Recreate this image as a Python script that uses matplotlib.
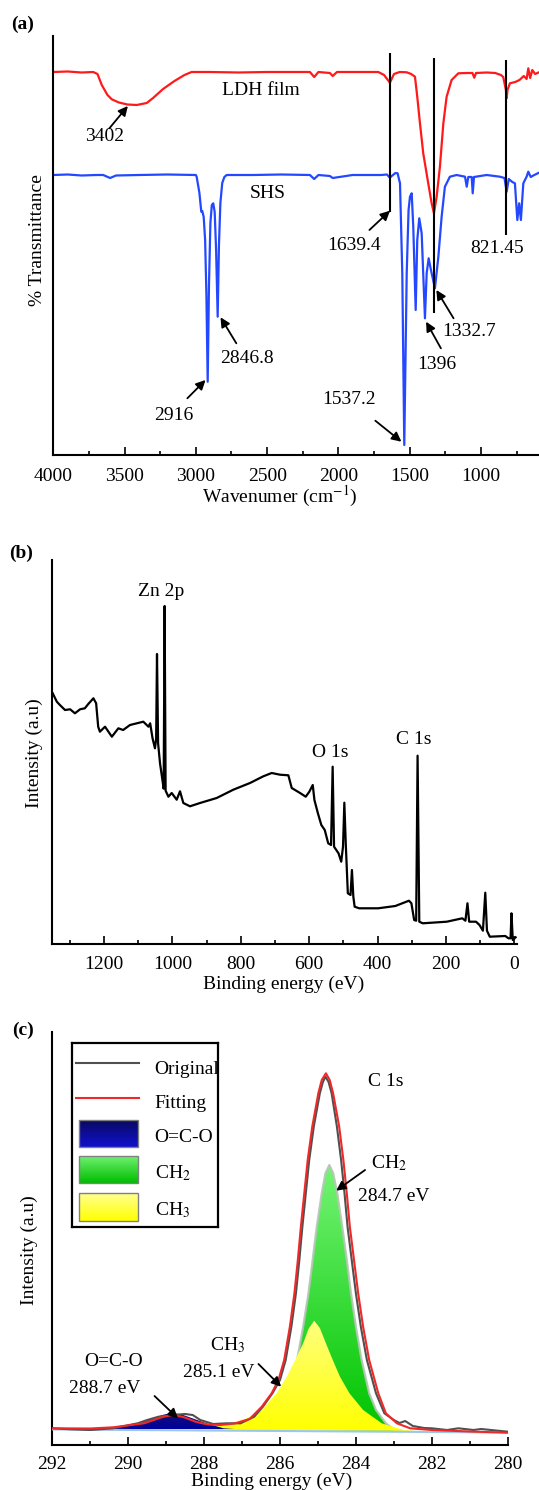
import numpy as np
import matplotlib
matplotlib.use('Agg')
import matplotlib.pyplot as plt
from matplotlib.colors import LinearSegmentedColormap

plt.rcParams['font.family'] = 'Liberation Serif'
plt.rcParams['mathtext.fontset'] = 'stix'

# ---------------- (a) FTIR ----------------
ldh_wn = [4000, 3900, 3800, 3720, 3690, 3660, 3620, 3590, 3540, 3480, 3415, 3345, 3300, 3230,
          3150, 3080, 3030, 2900, 2700, 2500, 2300, 2200, 2170, 2140, 2060, 2040, 2010, 1800,
          1720, 1680, 1639, 1610, 1570, 1521, 1490, 1463, 1447, 1428, 1405, 1370, 1346, 1330,
          1311, 1288, 1264, 1241, 1206, 1159, 1100, 1060, 1047, 1035, 960, 900, 860, 844, 825,
          820, 814, 797, 760, 730, 700, 680, 668, 655, 640, 620, 593]
ldh_t = [383, 383.5, 382.5, 383, 381, 370, 360, 355.7, 352.5, 350.5, 350, 352, 357, 366,
         374, 380, 383, 383, 382.5, 383, 383, 383, 378, 383, 382, 379, 383, 383,
         383, 380, 372.3, 381, 383, 382.7, 381, 378.3, 358.3, 331.7, 301.7, 271.7, 251.7, 241.7,
         258.3, 288.3, 331.7, 358.3, 375, 381.7, 382, 382, 377.3, 382, 382.5, 382, 380, 378, 365,
         356.7, 365, 371.7, 373, 375, 379, 376, 386.7, 377, 385, 381, 382.7]

shs_wn = [4000, 3900, 3800, 3700, 3650, 3602, 3560, 3400, 3200, 3000, 2994, 2975, 2962, 2955,
          2945, 2935, 2926, 2917, 2908, 2898, 2888, 2878, 2868, 2858, 2847, 2838, 2828, 2815,
          2800, 2784, 2600, 2400, 2200, 2170, 2140, 2060, 2040, 1900, 1700, 1660, 1639, 1626,
          1600, 1585, 1568, 1552, 1538, 1521, 1508, 1498, 1486, 1475, 1458, 1447, 1433, 1416,
          1393, 1381, 1367, 1351, 1323, 1299, 1276, 1253, 1218, 1171, 1112, 1100, 1089, 1065,
          1058, 1049, 960, 867, 835, 820, 805, 797, 780, 762, 745, 732, 720, 703, 680, 668, 651,
          633, 593]
shs_t = [280, 280.5, 279.5, 280, 280, 277, 279.5, 280, 280.5, 280, 278, 262, 243.3, 244,
         238, 215, 160, 73.3, 170, 232, 250, 251.7, 243, 205, 138.3, 210, 252, 272,
         278, 280, 280, 280.5, 280, 276, 280, 279, 277, 280, 280, 280.5, 277.3, 279,
         282, 281.7, 271.7, 181.7, 10, 181.7, 245, 258.3, 261.7, 228.3, 145, 215, 236.7, 221.7,
         136.7, 181.7, 196.7, 185, 166.7, 198.3, 238.3, 268.3, 278.3, 280, 278.3, 268.3, 278, 278,
         261.7, 278, 280, 278.3, 277, 263.3, 276, 275, 273, 271.7, 235, 251.7, 235, 271.7, 278.3,
         283.3, 278, 279.5, 282.3]

mark_wn = [1639.4, 1332.7, 821.45]
mark_lo = [243.3, 141.7, 220]
mark_hi = [402.3, 396.7, 395]

# peak labels: head of arrow (wn, t), arrow tail offset, text offset (pixels)
peak_labels = ['3402', '1639.4', '2846.8', '2916', '1537.2', '1396', '1332.7']
peak_head = [(3477, 349), (1638, 244.3), (2827, 137.7), (2932, 75), (1558, 13.3),
             (1385, 133.3), (1313, 165)]
peak_tail = [(-18.5, -22.3), (-20.6, -19.3), (15.8, -26), (-18.2, -18.3), (-26.1, 21),
             (14.8, -26.6), (17.2, -28.3)]
peak_text = [(-23, -30.7), (-36, -34.3), (26.8, -41), (-32, -35), (-51.9, 42.4),
             (10.3, -42.6), (32.6, -41)]

ftir_major = [4000, 3500, 3000, 2500, 2000, 1500, 1000]
ftir_minor = [3750, 3250, 2750, 2250, 1750, 1250, 750]

# ---------------- (b) XPS survey ----------------
survey_ev = [1350, 1338, 1329, 1314, 1299, 1285, 1270, 1256, 1246, 1231,
             1223, 1217, 1212, 1197, 1177, 1158, 1144, 1124, 1104, 1085,
             1070, 1065, 1058, 1051, 1047.5, 1045, 1041.8, 1036, 1029, 1025.5,
             1022.7, 1019.8, 1011.6, 1002, 987.4, 977.7, 968, 948.5, 919.2, 870.4,
             821.8, 773, 734, 709.6, 685.2, 660.8, 651, 626.7, 610, 599.5,
             589.5, 584.6, 574.4, 564.4, 554.4, 544.3, 536, 531.3, 527.2, 514.1,
             506.2, 501, 497.1, 493.0, 486.9, 479.0, 474.9, 470.8, 467.0, 453.8,
             398.2, 348.0, 308.1, 301, 292.9, 287, 282.9, 277.9, 267.7, 197.4,
             152.1, 143, 137.0, 132, 112.0, 101.8, 91.8, 84.9, 80, 71.7,
             26.4, 17, 11, 8.3, 4.5, -3.8]
survey_int = [250.7, 242.3, 239, 234, 234.7, 230.7, 234.7, 235.7, 240, 245.7,
              240.7, 217.3, 212.3, 217.3, 207.3, 215.7, 214, 219, 220.7, 222.3,
              217.3, 220.7, 205.7, 195.7, 205, 290, 200.7, 180.3, 163.7, 155.3,
              338, 153.3, 147.3, 151, 144.3, 152.7, 141, 137.7, 141, 146,
              154.3, 161, 167.7, 171, 169.3, 168.7, 156, 151, 147.3, 152.3,
              159, 144, 130.7, 119, 114, 100.7, 99, 177.3, 97.3, 90.7,
              82.3, 97.3, 141.3, 100.7, 50.7, 49, 74, 47.3, 37.3, 35.7,
              35.7, 38, 43.3, 40.7, 24, 23.3, 188.3, 22.3, 20.7, 22.3,
              25.7, 23.3, 40.7, 22.3, 22.3, 19, 13.3, 51.3, 13.3, 7.3,
              8, 5.7, 5.7, 30.7, 4, 6.7]
survey_labels = ['Zn 2p', 'O 1s', 'C 1s']
survey_label_pos = [(1034, 352.3), (537, 191.7), (293, 204)]
survey_major = [1200, 1000, 800, 600, 400, 200, 0]
survey_minor = [1300, 1100, 900, 700, 500, 300, 100]

# ---------------- (c) C 1s ----------------
orig_ev = [292.0, 291.5, 291.0, 290.4, 289.75, 289.5, 289.2, 288.85, 288.5, 288.3, 288.1,
           287.76, 287.4, 287.04, 286.68, 286.45, 286.2, 286.0, 285.85, 285.7, 285.58,
           285.49, 285.41, 285.32, 285.23, 285.11, 284.95, 284.87, 284.8, 284.72, 284.64,
           284.5, 284.39, 284.3, 284.22, 284.11, 284.0, 283.87, 283.71, 283.47, 283.25,
           283.0, 282.85, 282.7, 282.5, 282.2, 282.0, 281.6, 281.3, 280.9, 280.7, 280.0]
orig_int = [16.7, 15.7, 15, 16.7, 21.7, 25, 28.3, 30, 31, 30, 25,
            21, 21.7, 21.7, 28.3, 38.3, 51.7, 65, 85, 118.3, 151.7,
            185, 218.3, 251.7, 285, 318.3, 351.7, 363, 368.3, 363, 351.7,
            318.3, 285, 251.7, 218.3, 185, 151.7, 118.3, 85, 51.7, 31.7,
            25, 22, 24, 19, 17, 16.7, 15, 16.7, 15, 16, 13.3]
fit_ev = [292.0, 291.0, 290.39, 289.58, 289.1, 288.85, 288.55, 288.2, 287.9, 287.58, 287.2,
          286.8, 286.48, 286.22, 286.04, 285.89, 285.74, 285.62, 285.53, 285.45, 285.36,
          285.27, 285.15, 284.99, 284.9, 284.79, 284.69, 284.6, 284.44, 284.33, 284.24,
          284.16, 284.05, 283.94, 283.81, 283.65, 283.41, 283.21, 282.92, 282.57, 282.0,
          281.0, 280.0]
fit_int = [16.7, 16.5, 17.7, 21.7, 28, 30, 28, 23, 20.5, 20, 21.5,
           26, 38.3, 51.7, 65, 85, 118.3, 151.7, 185, 218.3, 251.7,
           285, 318.3, 351.7, 365, 371.7, 365, 351.7, 318.3, 285, 251.7,
           218.3, 185, 151.7, 118.3, 85, 51.7, 31.7, 21.7, 16.7, 15,
           13.5, 12.3]
ch2_ev = [286.4, 286.19, 285.93, 285.75, 285.55, 285.39, 285.25, 285.14, 285.03, 284.9,
          284.8, 284.7, 284.6, 284.49, 284.36, 284.24, 284.13, 284.0, 283.85, 283.65,
          283.47, 283.21, 283.0, 282.8]
ch2_int = [15.5, 21.7, 35, 51.7, 85, 118.3, 151.7, 185, 218.3, 251.7,
           272, 280, 272, 251.7, 218.3, 185, 151.7, 118.3, 85, 51.7,
           35, 21.7, 15.5, 14]
ch3_ev = [288.3, 287.94, 287.22, 286.8, 286.48, 286.09, 285.82, 285.6, 285.39, 285.25,
          285.1, 284.95, 284.79, 284.61, 284.42, 284.17, 283.81, 283.32, 282.75, 282.4]
ch3_int = [15.5, 16.7, 21.7, 28, 35, 51.7, 68.3, 85, 101.7, 116,
           124.3, 117, 101.7, 85, 68.3, 51.7, 35, 21.7, 15, 14]
occo_ev = [290.8, 290.39, 289.67, 289.1, 288.85, 288.55, 287.94, 287.49, 287.2]
occo_int = [16, 16.7, 21.7, 30, 32.3, 30, 21.7, 16.7, 16]
base_ev = [292, 280]
base_int = [15.5, 12.5]
c1s_major = [292, 290, 288, 286, 284, 282, 280]
c1s_minor = [291, 289, 287, 285, 283, 281]

comp_labels = [['CH$_2$', '284.7 eV'], ['CH$_3$', '285.1 eV'], ['O=C-O', '288.7 eV']]
comp_head = [(284.52, 254.3), (285.97, 58.3), (288.69, 26.7)]
comp_tail = [(28.9, 20.7), (-22.7, 22.7), (-23.4, 22.3)]
comp_text = [[(53.2, 28), (57.4, -6)], [(-53.6, 41.7), (-62.2, 14)], [(-64.6, 56.6), (-73.2, 30)]]

W, H = 539, 1490
FS = 14


def box(l, t, r, b):
    return [l / W, 1 - b / H, (r - l) / W, (b - t) / H]


def style(ax, major, minor, pad):
    for s in ['top', 'right']:
        ax.spines[s].set_visible(False)
    for s in ['left', 'bottom']:
        ax.spines[s].set_linewidth(1.5)
    ax.set_yticks([])
    ax.set_xticks(major)
    ax.set_xticks(minor, minor=True)
    ax.tick_params(axis='x', which='major', direction='in', length=5.5, width=1.2,
                   labelsize=FS, pad=pad)
    ax.tick_params(axis='x', which='minor', direction='in', length=3, width=1.2)


def ftext(x, y, s, **kw):
    fig.text(x / W, 1 - y / H, s, ha='center', va='center', fontsize=FS, **kw)


arrow = dict(arrowstyle='-|>', color='k', lw=1.3, mutation_scale=14, shrinkA=0, shrinkB=0)


def grad_fill(ax, x, y, top, bottom, z):
    poly = ax.fill(x, y, facecolor='none', edgecolor='none', zorder=z)[0]
    cmap = LinearSegmentedColormap.from_list('g', [bottom, top])
    img = ax.imshow(np.linspace(0, 1, 100).reshape(-1, 1), cmap=cmap, aspect='auto',
                    origin='lower', extent=[min(x), max(x), min(y), max(y)], zorder=z)
    img.set_clip_path(poly)


fig = plt.figure(figsize=(W / 100, H / 100), dpi=100)

# (a)
ax = fig.add_axes(box(53.3, 36, 539, 455))
ax.plot(ldh_wn, ldh_t, color='#ff1a1a', lw=1.6)
ax.plot(shs_wn, shs_t, color='#2448ff', lw=1.6)
ax.vlines(mark_wn, mark_lo, mark_hi, color='k', lw=1.5)
for lab, hd, tl, tx in zip(peak_labels, peak_head, peak_tail, peak_text):
    ax.annotate('', xy=hd, xytext=tl, textcoords='offset pixels', arrowprops=arrow)
    ax.annotate(lab, xy=hd, xytext=tx, textcoords='offset pixels', ha='center', va='center',
                fontsize=FS)
ax.text(884, 206.7, '821.45', ha='center', va='center', fontsize=FS)
ax.text(2543, 364.3, 'LDH film', ha='center', va='center', fontsize=FS)
ax.text(2498, 262, 'SHS', ha='center', va='center', fontsize=FS)
ax.set_xlim(4000, 593)
ax.set_ylim(0, 419)
style(ax, ftir_major, ftir_minor, 9.5)
ftext(22.3, 24.3, '(a)', fontweight='bold')
ftext(37.8, 240, '% Transmittance', rotation=90)
ftext(280, 496.7, 'Wavenumer (cm$^{-1}$)')

# (b)
ax = fig.add_axes(box(52.3, 560, 516.5, 944))
ax.plot(survey_ev, survey_int, color='k', lw=1.6)
for lab, pos in zip(survey_labels, survey_label_pos):
    ax.text(pos[0], pos[1], lab, ha='center', va='center', fontsize=FS)
ax.set_xlim(1351.2, -6.4)
ax.set_ylim(0, 384)
style(ax, survey_major, survey_minor, 8.5)
ftext(20.6, 553.3, '(b)', fontweight='bold')
ftext(34.4, 753.3, 'Intensity (a.u)', rotation=90)
ftext(284, 984, 'Binding energy (eV)')

# (c)
ax = fig.add_axes(box(52.3, 1031.7, 507.7, 1445))
grad_fill(ax, ch2_ev, ch2_int, '#74f474', '#00c400', 1)
ax.plot(ch2_ev, ch2_int, color='#b4c6b4', lw=1.6, alpha=0.9, zorder=1.5)
grad_fill(ax, ch3_ev, ch3_int, '#ffff80', '#ffff00', 2)
grad_fill(ax, occo_ev, occo_int, '#101070', '#0000a0', 3)
ax.plot(base_ev, base_int, color='#9cc8e6', lw=1.5, zorder=4)
ax.plot(orig_ev, orig_int, color='#505050', lw=1.5, zorder=5)
ax.plot(fit_ev, fit_int, color='#f02828', lw=1.5, zorder=6)
for labs, hd, tl, txs in zip(comp_labels, comp_head, comp_tail, comp_text):
    ax.annotate('', xy=hd, xytext=tl, textcoords='offset pixels', arrowprops=arrow, zorder=7)
    for lab, tx in zip(labs, txs):
        ax.annotate(lab, xy=hd, xytext=tx, textcoords='offset pixels', ha='center',
                    va='center', fontsize=FS)
ax.text(283.22, 363.3, 'C 1s', ha='center', va='center', fontsize=FS)
ax.set_xlim(292, 280)
ax.set_ylim(0, 413.3)
style(ax, c1s_major, c1s_minor, 8)
ftext(23.4, 1030, '(c)', fontweight='bold')
ftext(29.2, 1250, 'Intensity (a.u)', rotation=90)
ftext(271.7, 1481.7, 'Binding energy (eV)')

# legend for (c), drawn by hand so the swatches can carry gradients
lg = fig.add_axes(box(72.2, 1043.3, 218.2, 1227.3))
lg.set_xticks([])
lg.set_yticks([])
for s in lg.spines.values():
    s.set_linewidth(1.6)
lg.plot([76.3, 139.2], [1062.7, 1062.7], color='#505050', lw=1.5)
lg.plot([76.3, 139.2], [1097.7, 1097.7], color='#f02828', lw=1.5)
swatches = [('#0a0a60', '#1010d0', 1120, 1146.7), ('#70f070', '#00be00', 1155.7, 1182.7),
            ('#ffff90', '#ffff00', 1193.3, 1220.7)]
for top, bot, y0, y1 in swatches:
    cm = LinearSegmentedColormap.from_list('s', [top, bot])
    lg.imshow(np.linspace(0, 1, 50).reshape(-1, 1), cmap=cm, aspect='auto', origin='upper',
              extent=[79, 137.5, y1, y0])
    lg.add_patch(plt.Rectangle((79, y0), 58.5, y1 - y0, fill=False, ec='#808080', lw=1))
lg.set_xlim(72.2, 218.2)
lg.set_ylim(1227.3, 1043.3)
for lab, y in zip(['Original', 'Fitting', 'O=C-O', 'CH$_2$', 'CH$_3$'],
                  [1069, 1103.3, 1137.3, 1173.3, 1210]):
    lg.text(154.6, y, lab, ha='left', va='center', fontsize=FS, clip_on=False)

fig.savefig('out.png', dpi=100)
